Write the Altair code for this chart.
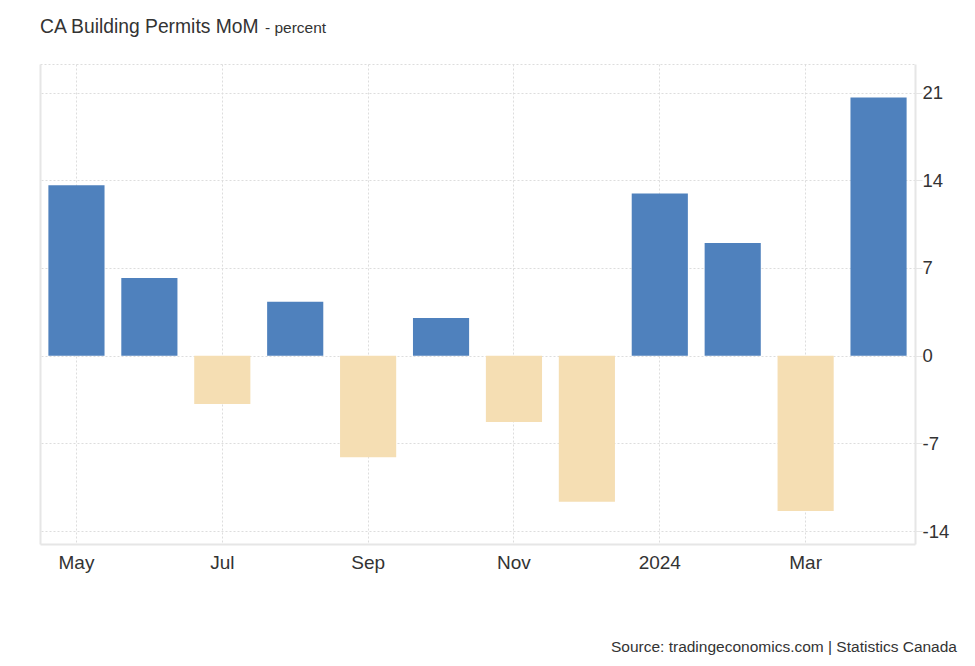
import altair as alt
import pandas as pd

months = ["May", "Jun", "Jul", "Aug", "Sep", "Oct", "Nov", "Dec", "2024", "Feb", "Mar", "Apr"]
values = [13.6, 6.2, -3.85, 4.3, -8.1, 3.0, -5.3, -11.65, 12.95, 9.0, -12.4, 20.6]
tick_months = ["May", "Jul", "Sep", "Nov", "2024", "Mar"]
y_ticks = [-14, -7, 0, 7, 14, 21]
y_domain = [-15.03, 23.28]

df = pd.DataFrame({"month": months, "value": values})
df["sign"] = ["pos" if v >= 0 else "neg" for v in values]

FONT = "Liberation Sans"
W, H = 875, 480

x_scale = alt.Scale(domain=months, paddingInner=0.23, paddingOuter=0.115)
y_scale = alt.Scale(domain=y_domain, nice=False, zero=False)
color_scale = alt.Scale(domain=["pos", "neg"], range=["#4f81bd", "#f5deb3"])

bars = alt.Chart(df).mark_bar().encode(
    x=alt.X("month:N", scale=x_scale, sort=months,
            axis=alt.Axis(orient="bottom", values=tick_months, title=None,
                          labelFont=FONT, labelFontSize=19, labelColor="#333333",
                          labelPadding=9, ticks=False, bandPosition=0.5,
                          labelAngle=0,
                          grid=True, gridColor="#dddddd", gridDash=[2, 2],
                          domainColor="#e6e6e6", domainWidth=2)),
    y=alt.Y("value:Q", scale=y_scale,
            axis=alt.Axis(orient="right", values=y_ticks, title=None,
                          labelExpr="toString(datum.value)",
                          labelFont=FONT, labelFontSize=18.5, labelColor="#333333",
                          tickSize=7, tickColor="#e6e6e6", labelPadding=0,
                          grid=True, gridColor="#dddddd", gridDash=[2, 2],
                          domainColor="#e6e6e6", domainWidth=2)),
    color=alt.Color("sign:N", scale=color_scale, legend=None),
)

frame = alt.Chart(df).mark_bar(opacity=0).encode(
    x=alt.X("month:N", scale=x_scale, sort=months,
            axis=alt.Axis(orient="top", labels=False, ticks=False, title=None,
                          grid=False, domainColor="#dddddd", domainDash=[2, 2],
                          domainWidth=1)),
    y=alt.Y("value:Q", scale=y_scale,
            axis=alt.Axis(orient="left", labels=False, ticks=False, title=None,
                          grid=False, domainColor="#e6e6e6", domainWidth=2)),
)

title_df = pd.DataFrame({"t": ["CA Building Permits MoM"]})
title = alt.Chart(title_df).mark_text(
    align="left", baseline="alphabetic", font=FONT, fontSize=19.3, color="#333333"
).encode(text="t:N", x=alt.value(0), y=alt.value(-31))

sub_df = pd.DataFrame({"t": ["- percent"]})
subtitle = alt.Chart(sub_df).mark_text(
    align="left", baseline="alphabetic", font=FONT, fontSize=15.5, color="#333333"
).encode(text="t:N", x=alt.value(225), y=alt.value(-31))

src_df = pd.DataFrame({"t": ["Source: tradingeconomics.com | Statistics Canada"]})
source = alt.Chart(src_df).mark_text(
    align="right", baseline="alphabetic", font=FONT, fontSize=15.5, color="#333333"
).encode(text="t:N", x=alt.value(917), y=alt.value(588))

chart = alt.layer(frame, bars, title, subtitle, source).resolve_axis(
    x="independent", y="independent"
).properties(
    width=W, height=H,
    autosize=alt.AutoSizeParams(type="none"),
    padding={"left": 40, "top": 64, "right": 60, "bottom": 122},
    background="white",
).configure_view(stroke=None)

chart.save("out.html", embed_options={"renderer": "svg", "actions": False})
